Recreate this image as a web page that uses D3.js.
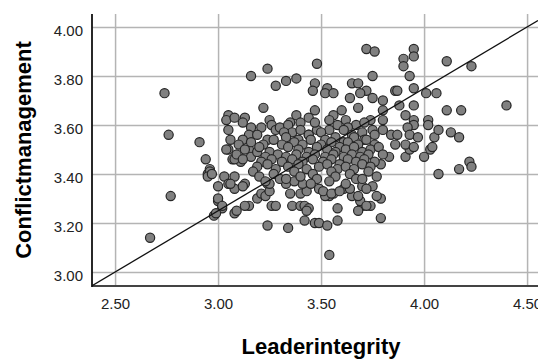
<!DOCTYPE html>
<html>
<head>
<meta charset="utf-8">
<style>
  body { margin: 0; background: #fff; }
  svg { display: block; font-family: "Liberation Sans", Arial, sans-serif; }
  .grid line { stroke: #b4b4b4; stroke-width: 1.5; }
  .grid text { fill: #222; font-size: 15px; }
  .title { font-weight: bold; font-size: 22px; fill: #000; }
  .dot { fill: #808080; stroke: #262626; stroke-width: 1.2; }
</style>
<script src="https://d3js.org/d3.v7.min.js"></script>
</head>
<body>
<script>
// axis ticks
var xTicks = [2.5, 3.0, 3.5, 4.0, 4.5];
var yTicks = [3.0, 3.2, 3.4, 3.6, 3.8, 4.0];
var xTitle = "Leaderintegrity";
var yTitle = "Conflictmanagement";

// fit line (y = a + b*x)
var fitIntercept = 1.75;
var fitSlope = 0.50;

// points [leaderintegrity, conflictmanagement]
var outerPoints = [
  [2.67,3.14],[2.77,3.31],[2.74,3.73],[2.76,3.56],[2.91,3.53],[2.94,3.46],[2.96,3.42],[2.95,3.40],[2.98,3.23],[3.00,3.29],
  [3.02,3.26],[3.08,3.24],[3.15,3.27],[3.19,3.30],[3.24,3.19],[3.34,3.18],[3.26,3.27],[3.36,3.27],[3.40,3.27],[3.42,3.27],
  [3.44,3.26],[3.43,3.25],[3.42,3.21],[3.47,3.20],[3.49,3.20],[3.53,3.19],[3.58,3.21],[3.54,3.07],[3.79,3.22],[3.79,3.30],
  [3.77,3.31],[3.74,3.27],[3.70,3.27],[3.75,3.35],[3.70,3.35],[3.69,3.29],[3.68,3.25],[3.72,3.27],[3.58,3.26],[3.79,3.44],
  [4.07,3.40],[4.17,3.42],[4.22,3.45],[4.23,3.43],[3.83,3.47],[3.91,3.47],[4.00,3.47],[3.93,3.50],[4.03,3.50],[4.05,3.55],
  [4.13,3.57],[4.17,3.55],[4.04,3.51],[4.40,3.68],[4.11,3.66],[4.18,3.66],[4.11,3.86],[4.23,3.84],[3.95,3.91],[3.95,3.88],
  [3.90,3.87],[3.90,3.84],[3.93,3.80],[3.86,3.74],[3.87,3.74],[3.95,3.75],[4.01,3.73],[4.06,3.73],[3.80,3.70],[3.88,3.68],
  [3.95,3.68],[3.80,3.66],[3.80,3.62],[3.91,3.64],[3.95,3.62],[3.95,3.60],[3.92,3.59],[4.02,3.62],[4.02,3.60],[4.07,3.58],
  [3.84,3.56],[3.87,3.56],[3.93,3.56],[3.97,3.55],[3.80,3.58],[3.86,3.52],[3.91,3.52],[3.95,3.51],[3.72,3.91],[3.76,3.90],
  [3.48,3.85],[3.24,3.83],[3.16,3.80],[3.38,3.79],[3.33,3.78],[3.28,3.76],[3.47,3.77],[3.46,3.74],[3.53,3.75],[3.52,3.73],
  [3.56,3.73],[3.65,3.77],[3.68,3.77],[3.72,3.74],[3.75,3.80],[3.64,3.71],[3.69,3.73],[3.75,3.71],[3.22,3.67],[3.68,3.67],
  [3.13,3.63],[3.47,3.66],[3.44,3.63],[3.38,3.64],[3.35,3.61],[3.25,3.62],[3.26,3.60],[3.21,3.59],[3.32,3.58],[3.28,3.58],
  [3.60,3.66],[3.56,3.64],[3.54,3.62],[3.62,3.62],[3.67,3.60],[3.74,3.62],[3.54,3.58],[3.48,3.58],[3.47,3.61],[3.05,3.64],
  [3.04,3.62],[3.08,3.63],[3.05,3.58],[3.06,3.54],[3.05,3.50],[3.07,3.46],[3.11,3.45],[3.15,3.50],[3.16,3.47],[3.19,3.49],
  [3.30,3.59],[3.34,3.60],[3.36,3.57],[3.32,3.57],[2.96,3.41],[2.95,3.39],[2.97,3.40],[3.03,3.39],[3.00,3.35],[3.05,3.36],
  [3.08,3.39],[3.08,3.34],[3.04,3.50],[3.08,3.46],[3.00,3.30],[3.02,3.27],[2.99,3.24],[3.09,3.25],[3.06,3.36],[3.13,3.36],
  [3.24,3.36],[3.21,3.32],[3.23,3.31],[3.49,3.34],[3.54,3.31],[3.56,3.32],[3.61,3.34],[3.65,3.31],[3.52,3.31],[3.12,3.35],
  [3.13,3.27],[3.25,3.33],[3.28,3.27],[3.25,3.36],[3.33,3.36],[3.35,3.32],[3.40,3.32],[3.43,3.33],[3.41,3.36],[3.37,3.37],
  [3.51,3.33],[3.55,3.32],[3.59,3.33],[3.64,3.34],[3.68,3.31],[3.72,3.34],[3.77,3.39]
];

var corePoints = [
  [3.12,3.61],[3.16,3.59],[3.40,3.61],[3.58,3.60],[3.63,3.59],[3.71,3.61],
  [3.15,3.56],[3.40,3.58],[3.44,3.56],[3.50,3.57],[3.61,3.58],[3.65,3.56],[3.70,3.57],[3.75,3.58],
  [3.12,3.54],[3.19,3.56],[3.24,3.54],[3.33,3.55],[3.39,3.54],[3.44,3.56],[3.52,3.54],[3.57,3.55],[3.61,3.53],[3.66,3.55],[3.71,3.54],[3.76,3.56],
  [3.10,3.52],[3.16,3.53],[3.22,3.52],[3.27,3.54],[3.31,3.52],[3.37,3.53],[3.41,3.52],[3.45,3.54],[3.50,3.52],[3.55,3.53],[3.59,3.51],[3.63,3.53],[3.68,3.52],[3.72,3.54],[3.76,3.52],
  [3.13,3.50],[3.20,3.51],[3.25,3.49],[3.34,3.51],[3.39,3.50],[3.44,3.49],[3.48,3.51],[3.53,3.50],[3.57,3.49],[3.62,3.50],[3.66,3.51],[3.70,3.49],[3.74,3.50],[3.78,3.51],
  [3.09,3.48],[3.23,3.47],[3.29,3.48],[3.33,3.47],[3.38,3.48],[3.43,3.47],[3.47,3.48],[3.52,3.47],[3.56,3.48],[3.61,3.47],[3.65,3.48],[3.69,3.47],[3.73,3.48],[3.80,3.48],
  [3.12,3.46],[3.21,3.45],[3.26,3.46],[3.31,3.45],[3.36,3.46],[3.41,3.45],[3.46,3.46],[3.51,3.45],[3.55,3.46],[3.59,3.44],[3.63,3.46],[3.67,3.45],[3.71,3.46],[3.76,3.45],
  [3.19,3.43],[3.24,3.44],[3.28,3.42],[3.34,3.43],[3.39,3.44],[3.43,3.42],[3.49,3.43],[3.53,3.44],[3.58,3.42],[3.62,3.43],[3.66,3.42],[3.70,3.44],[3.74,3.43],
  [3.17,3.41],[3.27,3.40],[3.37,3.41],[3.46,3.40],[3.55,3.41],[3.64,3.40],[3.73,3.41],
  [3.20,3.39],[3.30,3.38],[3.40,3.39],[3.48,3.38],[3.57,3.39],[3.67,3.38],
  [3.23,3.37],[3.33,3.38],[3.45,3.36],[3.54,3.37],[3.62,3.36],[3.70,3.38]
];

var points = outerPoints.concat(corePoints);

var width = 538, height = 360;
var plotLeft = 92, plotRight = 538, plotTop = 14, plotBottom = 286;

var svg = d3.select("body").append("svg")
    .attr("width", width)
    .attr("height", height);

var x = d3.scaleLinear().domain([2.388, 4.553]).range([plotLeft, plotRight]);
var y = d3.scaleLinear().domain([2.943, 4.053]).range([plotBottom, plotTop]);

// grid + labels
var gx = svg.append("g")
    .attr("class", "grid")
    .attr("transform", "translate(0," + plotBottom + ")")
    .call(d3.axisBottom(x).tickValues(xTicks).tickFormat(d3.format(".2f"))
      .tickSize(-(plotBottom - plotTop)).tickPadding(12));
gx.select(".domain").remove();

var gy = svg.append("g")
    .attr("class", "grid")
    .attr("transform", "translate(" + plotLeft + ",0)")
    .call(d3.axisLeft(y).tickValues(yTicks).tickFormat(d3.format(".2f"))
      .tickSize(-(plotRight - plotLeft)).tickPadding(9));
gy.select(".domain").remove();
gy.selectAll("text").attr("dy", "0.55em");

// axis lines
svg.append("line")
    .attr("x1", plotLeft).attr("x2", plotRight)
    .attr("y1", plotBottom).attr("y2", plotBottom)
    .attr("stroke", "#444").attr("stroke-width", 2);
svg.append("line")
    .attr("x1", plotLeft).attr("x2", plotLeft)
    .attr("y1", plotTop).attr("y2", plotBottom + 1)
    .attr("stroke", "#111").attr("stroke-width", 1.8);

svg.append("clipPath").attr("id", "plot")
  .append("rect")
    .attr("x", plotLeft).attr("y", plotTop)
    .attr("width", plotRight - plotLeft).attr("height", plotBottom - plotTop);

svg.append("g").selectAll("circle")
    .data(points)
    .enter().append("circle")
    .attr("class", "dot")
    .attr("cx", function (d) { return x(d[0]); })
    .attr("cy", function (d) { return y(d[1]); })
    .attr("r", 4.6);

var xd = x.domain();
svg.append("line")
    .attr("clip-path", "url(#plot)")
    .attr("x1", x(xd[0])).attr("y1", y(fitIntercept + fitSlope * xd[0]))
    .attr("x2", x(xd[1])).attr("y2", y(fitIntercept + fitSlope * xd[1]))
    .attr("stroke", "#111").attr("stroke-width", 1.3);

// titles
svg.append("text")
    .attr("class", "title")
    .attr("x", 321).attr("y", 354)
    .attr("text-anchor", "middle")
    .text(xTitle);
svg.append("text")
    .attr("class", "title")
    .attr("transform", "translate(31," + ((plotTop + plotBottom) / 2) + ") rotate(-90)")
    .attr("text-anchor", "middle")
    .text(yTitle);
</script>
</body>
</html>
